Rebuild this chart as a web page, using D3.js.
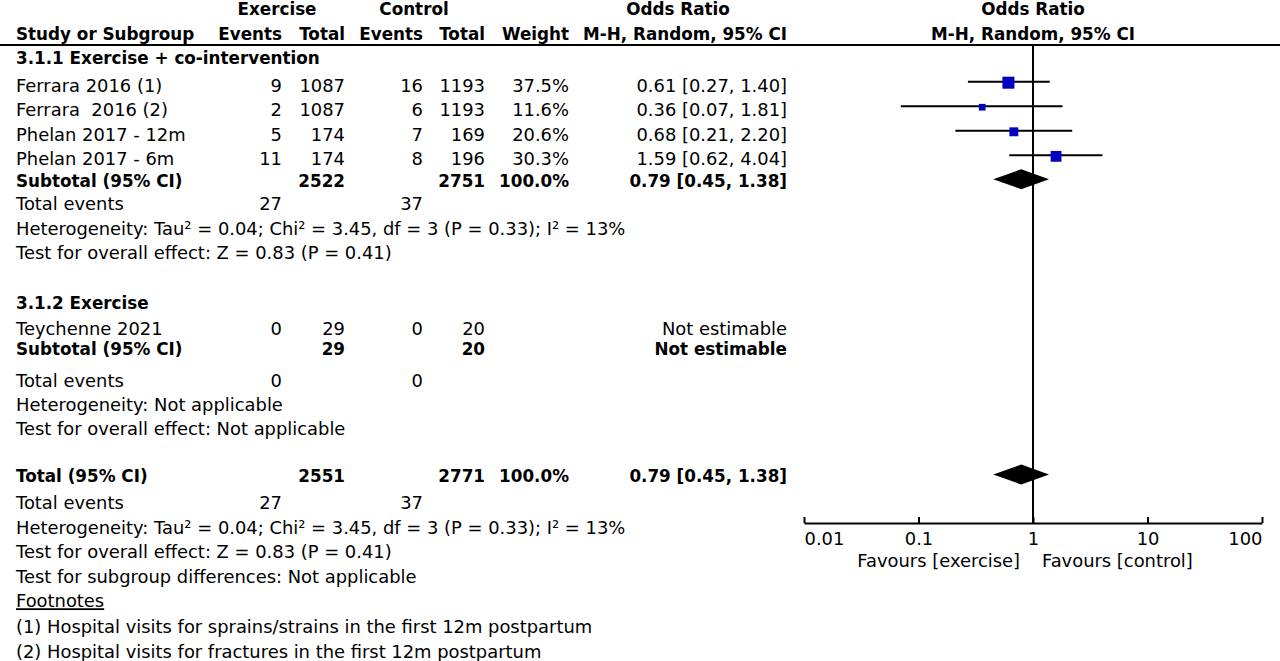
<!DOCTYPE html>
<html>
<head>
<meta charset="utf-8">
<script src="https://cdn.jsdelivr.net/npm/d3@7"></script>
<style>
  body { margin: 0; background: #fff; }
  svg text { font-family: "DejaVu Sans", sans-serif; font-size: 17.9px; fill: #000; white-space: pre; }
  svg text.b { font-weight: bold; font-size: 16.8px; }
</style>
</head>
<body>
<svg></svg>
<script>
// Data
const studies = ["Ferrara 2016 (1)", "Ferrara  2016 (2)", "Phelan 2017 - 12m", "Phelan 2017 - 6m"];
const expEvents = [9, 2, 5, 11];
const expTotal = [1087, 1087, 174, 174];
const ctlEvents = [16, 6, 7, 8];
const ctlTotal = [1193, 1193, 169, 196];
const weights = [37.5, 11.6, 20.6, 30.3];
const oddsRatio = [0.61, 0.36, 0.68, 1.59];
const ciLow = [0.27, 0.07, 0.21, 0.62];
const ciHigh = [1.40, 1.81, 2.20, 4.04];

const study2 = ["Teychenne 2021"];
const expEvents2 = [0], expTotal2 = [29], ctlEvents2 = [0], ctlTotal2 = [20];

const pooled = [0.79, 0.45, 1.38]; // or, lo, hi
const axisTicks = [0.01, 0.1, 1, 10, 100];

//Dimensions
const width = 1280, height = 661;
const svg = d3.select("svg").attr("width", width).attr("height", height);

// row slot -> baseline
const rowY = d3.scaleLinear().domain([0, 1]).range([91.7, 116.25]);
const x = d3.scaleLog().domain([0.01, 100]).range([804, 1262]);
const boxSize = d3.scaleSqrt().domain([0, 37.5]).range([0, 12]);
const f2 = d3.format(".2f"), f1 = d3.format(".1f");
const ciText = (o, l, h) => `${f2(o)} [${f2(l)}, ${f2(h)}]`;

// column right edges
const colX = { evE: 282, totE: 345, evC: 423, totC: 485, w: 569, ci: 787 };

function txt(xp, slot, s, opts = {}) {
  const t = svg.append("text")
    .attr("x", xp).attr("y", typeof slot === "number" ? rowY(slot) : slot.y)
    .attr("text-anchor", opts.anchor || "start")
    .text(s);
  if (opts.bold) t.attr("class", "b");
  return t;
}

//Header
txt(277, { y: 15 }, "Exercise", { anchor: "middle", bold: true });
txt(414, { y: 15 }, "Control", { anchor: "middle", bold: true });
txt(678, { y: 15 }, "Odds Ratio", { anchor: "middle", bold: true });
txt(x(1), { y: 15 }, "Odds Ratio", { anchor: "middle", bold: true });
txt(16, { y: 39.5 }, "Study or Subgroup", { bold: true });
txt(colX.evE, { y: 39.5 }, "Events", { anchor: "end", bold: true });
txt(colX.totE, { y: 39.5 }, "Total", { anchor: "end", bold: true });
txt(colX.evC, { y: 39.5 }, "Events", { anchor: "end", bold: true });
txt(colX.totC, { y: 39.5 }, "Total", { anchor: "end", bold: true });
txt(colX.w, { y: 39.5 }, "Weight", { anchor: "end", bold: true });
txt(colX.ci, { y: 39.5 }, "M-H, Random, 95% CI", { anchor: "end", bold: true });
txt(x(1), { y: 39.5 }, "M-H, Random, 95% CI", { anchor: "middle", bold: true });

svg.append("line").attr("x1", 0).attr("x2", width).attr("y1", 45).attr("y2", 45)
  .attr("stroke", "#000").attr("stroke-width", 2);

//Subgroup 1
txt(16, -1.13, "3.1.1 Exercise + co-intervention", { bold: true });
studies.forEach((s, i) => {
  txt(16, i, s);
  txt(colX.evE, i, expEvents[i], { anchor: "end" });
  txt(colX.totE, i, expTotal[i], { anchor: "end" });
  txt(colX.evC, i, ctlEvents[i], { anchor: "end" });
  txt(colX.totC, i, ctlTotal[i], { anchor: "end" });
  txt(colX.w, i, f1(weights[i]) + "%", { anchor: "end" });
  txt(colX.ci, i, ciText(oddsRatio[i], ciLow[i], ciHigh[i]), { anchor: "end" });
});
const sub1 = 3.87;
txt(16, sub1, "Subtotal (95% CI)", { bold: true });
txt(colX.totE, sub1, d3.sum(expTotal), { anchor: "end", bold: true });
txt(colX.totC, sub1, d3.sum(ctlTotal), { anchor: "end", bold: true });
txt(colX.w, sub1, f1(d3.sum(weights)) + "%", { anchor: "end", bold: true });
txt(colX.ci, sub1, ciText(...pooled), { anchor: "end", bold: true });
txt(16, 4.82, "Total events");
txt(colX.evE, 4.82, d3.sum(expEvents), { anchor: "end" });
txt(colX.evC, 4.82, d3.sum(ctlEvents), { anchor: "end" });
const het = "Heterogeneity: Tau\u00b2 = 0.04; Chi\u00b2 = 3.45, df = 3 (P = 0.33); I\u00b2 = 13%";
const overall = "Test for overall effect: Z = 0.83 (P = 0.41)";
txt(16, 5.84, het);
txt(16, 6.83, overall);

//Subgroup 2
txt(16, 8.87, "3.1.2 Exercise", { bold: true });
study2.forEach((s, i) => {
  const r = 9.91 + i;
  txt(16, r, s);
  txt(colX.evE, r, expEvents2[i], { anchor: "end" });
  txt(colX.totE, r, expTotal2[i], { anchor: "end" });
  txt(colX.evC, r, ctlEvents2[i], { anchor: "end" });
  txt(colX.totC, r, ctlTotal2[i], { anchor: "end" });
  txt(colX.ci, r, "Not estimable", { anchor: "end" });
});
txt(16, 10.72, "Subtotal (95% CI)", { bold: true });
txt(colX.totE, 10.72, d3.sum(expTotal2), { anchor: "end", bold: true });
txt(colX.totC, 10.72, d3.sum(ctlTotal2), { anchor: "end", bold: true });
txt(colX.ci, 10.72, "Not estimable", { anchor: "end", bold: true });
txt(16, 12.02, "Total events");
txt(colX.evE, 12.02, d3.sum(expEvents2), { anchor: "end" });
txt(colX.evC, 12.02, d3.sum(ctlEvents2), { anchor: "end" });
txt(16, 13.0, "Heterogeneity: Not applicable");
txt(16, 14.0, "Test for overall effect: Not applicable");

//Total
const tot = 15.9;
txt(16, tot, "Total (95% CI)", { bold: true });
txt(colX.totE, tot, d3.sum(expTotal) + d3.sum(expTotal2), { anchor: "end", bold: true });
txt(colX.totC, tot, d3.sum(ctlTotal) + d3.sum(ctlTotal2), { anchor: "end", bold: true });
txt(colX.w, tot, f1(d3.sum(weights)) + "%", { anchor: "end", bold: true });
txt(colX.ci, tot, ciText(...pooled), { anchor: "end", bold: true });
txt(16, 17, "Total events");
txt(colX.evE, 17, d3.sum(expEvents) + d3.sum(expEvents2), { anchor: "end" });
txt(colX.evC, 17, d3.sum(ctlEvents) + d3.sum(ctlEvents2), { anchor: "end" });
txt(16, 18, het);
txt(16, 19, overall);
txt(16, 20, "Test for subgroup differences: Not applicable");
txt(16, 21, "Footnotes").style("text-decoration", "underline");
txt(16, 22.05, "(1) Hospital visits for sprains/strains in the first 12m postpartum");
txt(16, 23.06, "(2) Hospital visits for fractures in the first 12m postpartum");

//Forest plot
const axisY = 523;
svg.append("line").attr("x1", x(1)).attr("x2", x(1)).attr("y1", 45).attr("y2", axisY)
  .attr("stroke", "#000").attr("stroke-width", 2);

const plot = svg.append("g");
plot.selectAll("line.ci").data(studies).enter().append("line")
  .attr("class", "ci")
  .attr("x1", (d, i) => x(ciLow[i])).attr("x2", (d, i) => x(ciHigh[i]))
  .attr("y1", (d, i) => rowY(i) - 10).attr("y2", (d, i) => rowY(i) - 10)
  .attr("stroke", "#000").attr("stroke-width", 2);
plot.selectAll("rect.box").data(studies).enter().append("rect")
  .attr("class", "box")
  .attr("x", (d, i) => x(oddsRatio[i]) - boxSize(weights[i]) / 2)
  .attr("y", (d, i) => rowY(i) - 9 - boxSize(weights[i]) / 2)
  .attr("width", (d, i) => boxSize(weights[i]))
  .attr("height", (d, i) => boxSize(weights[i]))
  .attr("fill", "#0000c0");

function diamond(slot) {
  const cy = rowY(slot) - 7.5;
  const [o, l, h] = pooled;
  svg.append("path")
    .attr("d", `M${x(l)},${cy} L${x(o)},${cy - 10} L${x(h)},${cy} L${x(o)},${cy + 10} Z`)
    .attr("fill", "#000");
}
diamond(sub1);
diamond(tot);

const axis = d3.axisBottom(x).tickValues(axisTicks).tickFormat(d => String(d))
  .tickSizeInner(-6).tickSizeOuter(0).tickPadding(9);
const ag = svg.append("g").attr("transform", `translate(0,${axisY})`).call(axis);
ag.select(".domain").attr("stroke-width", 2);
ag.selectAll(".tick line").attr("stroke-width", 2);
ag.selectAll(".tick text").style("font-family", '"DejaVu Sans", sans-serif').style("font-size", "17.9px")
  .attr("text-anchor", (d, i) => i === 0 ? "start" : i === axisTicks.length - 1 ? "end" : "middle");

txt(x(1) - 13, { y: 567 }, "Favours [exercise]", { anchor: "end" });
txt(x(1) + 9, { y: 567 }, "Favours [control]");
</script>
</body>
</html>
